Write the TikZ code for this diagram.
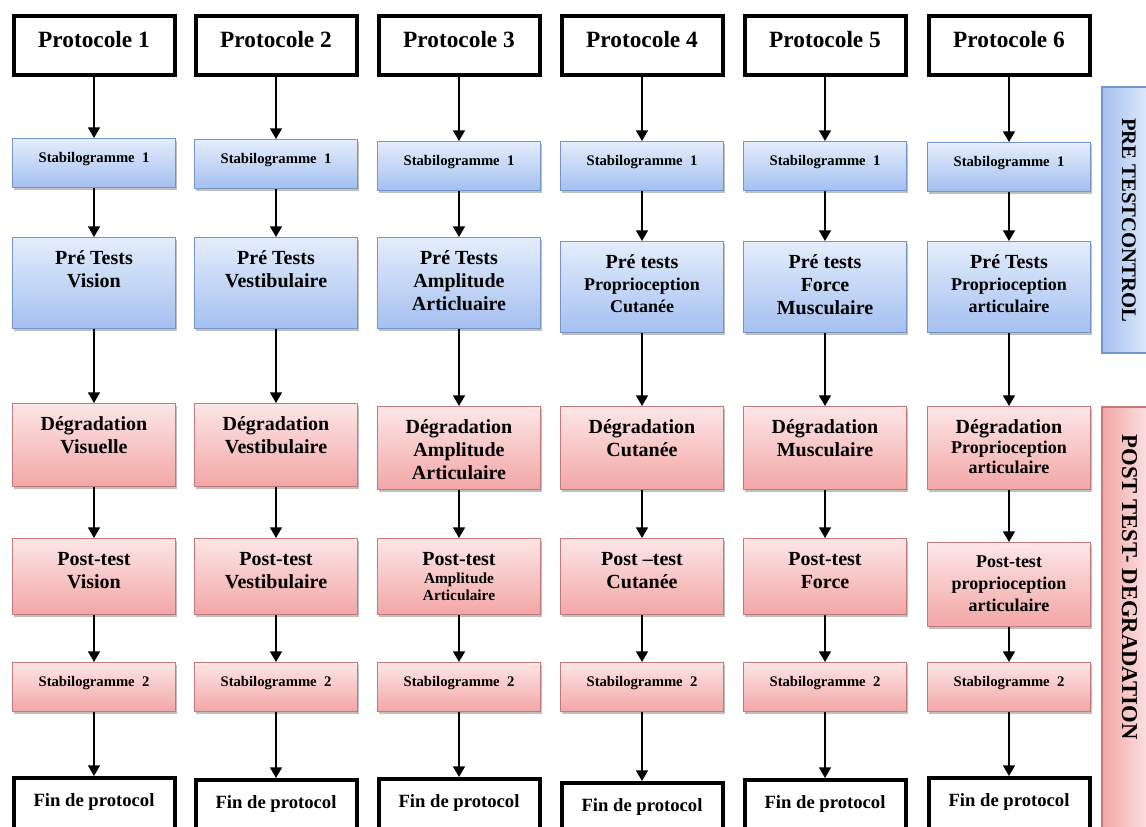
\documentclass[tikz,border=0pt]{standalone}
\usepackage{fontspec}
\setmainfont{Liberation Serif}
\usepackage{tikz}
\usetikzlibrary{arrows.meta,shadows}

\definecolor{bluetop}{RGB}{228,237,252}
\definecolor{bluebot}{RGB}{164,192,240}
\definecolor{blueline}{RGB}{118,148,204}
\definecolor{redtop}{RGB}{253,230,230}
\definecolor{redbot}{RGB}{243,166,166}
\definecolor{redline}{RGB}{196,122,122}

\newcommand{\lignes}[1]{\begin{tabular}[t]{@{}c@{}}#1\end{tabular}}

\begin{document}
\begin{tikzpicture}[x=0.75pt,y=-0.75pt,
    every node/.style={anchor=north,inner xsep=0pt,inner ysep=0pt},
    protbox/.style={draw=black,line width=3pt,fill=white,minimum width=120.75pt,
        text height=24pt,text depth=20.25pt,font=\fontsize{17.5}{20}\selectfont\bfseries},
    finbox/.style={protbox,text height=21pt,text depth=30pt,font=\fontsize{14}{16}\selectfont\bfseries},
    testbox/.style={line width=0.8pt,minimum width=122.25pt,
        drop shadow={shadow xshift=1.2pt,shadow yshift=-1.5pt,fill=black,opacity=.25},
        font=\fontsize{15}{17.25}\selectfont\bfseries},
    bluebox/.style={testbox,draw=blueline,top color=bluetop,bottom color=bluebot},
    redbox/.style={testbox,draw=redline,top color=redtop,bottom color=redbot},
    stab/.style={text height=18pt,text depth=18.75pt,font=\fontsize{11}{13}\selectfont\bfseries},
    pretest/.style={text height=20.25pt,text depth=48pt},
    degr/.style={text height=20.25pt,text depth=42pt},
    posttest/.style={text height=20.25pt,text depth=36.75pt},
    smallfont/.style={font=\fontsize{13.5}{16.5}\selectfont\bfseries},
    sidebox/.style={anchor=center,rotate=-90,line width=0.8pt,text height=22.5pt,text depth=15pt},
    arr/.style={-{Triangle[width=9pt,length=8pt]},line width=1.1pt}]
    \useasboundingbox (0,0) rectangle (1146,827);
    \clip (0,0) rectangle (1146,827);

    % protocols
    \node[protbox] (prot1) at (94,14) {Protocole 1};
    \node[protbox] (prot2) at (276,14) {Protocole 2};
    \node[protbox] (prot3) at (459,14) {Protocole 3};
    \node[protbox] (prot4) at (642,14) {Protocole 4};
    \node[protbox] (prot5) at (825,14) {Protocole 5};
    \node[protbox] (prot6) at (1009,14) {Protocole 6};

    % stabilogramme 1
    \node[bluebox,stab] (sa1) at (94,138) {Stabilogramme~~1};
    \node[bluebox,stab] (sa2) at (276,139) {Stabilogramme~~1};
    \node[bluebox,stab] (sa3) at (459,141) {Stabilogramme~~1};
    \node[bluebox,stab] (sa4) at (642,141) {Stabilogramme~~1};
    \node[bluebox,stab] (sa5) at (825,141) {Stabilogramme~~1};
    \node[bluebox,stab] (sa6) at (1009,142) {Stabilogramme~~1};

    % pre tests
    \node[bluebox,pretest] (pre1) at (94,237) {\lignes{Pré Tests\\Vision}};
    \node[bluebox,pretest] (pre2) at (276,237) {\lignes{Pré Tests\\Vestibulaire}};
    \node[bluebox,pretest] (pre3) at (459,237) {\lignes{Pré Tests\\Amplitude\\Articluaire}};
    \node[bluebox,pretest,smallfont] (pre4) at (642,241)
        {\lignes{{\fontsize{15}{16.5}\selectfont Pré tests}\\Proprioception\\Cutanée}};
    \node[bluebox,pretest] (pre5) at (825,241) {\lignes{Pré tests\\Force\\Musculaire}};
    \node[bluebox,pretest,smallfont] (pre6) at (1009,241)
        {\lignes{{\fontsize{15}{16.5}\selectfont Pré Tests}\\Proprioception\\articulaire}};

    % degradation
    \node[redbox,degr] (deg1) at (94,403) {\lignes{Dégradation\\Visuelle}};
    \node[redbox,degr] (deg2) at (276,403) {\lignes{Dégradation\\Vestibulaire}};
    \node[redbox,degr] (deg3) at (459,406) {\lignes{Dégradation\\Amplitude\\Articulaire}};
    \node[redbox,degr] (deg4) at (642,406) {\lignes{Dégradation\\Cutanée}};
    \node[redbox,degr] (deg5) at (825,406) {\lignes{Dégradation\\Musculaire}};
    \node[redbox,degr,font=\fontsize{13.5}{15}\selectfont\bfseries] (deg6) at (1009,406)
        {\lignes{{\fontsize{15}{15}\selectfont Dégradation}\\Proprioception\\articulaire}};

    % post tests
    \node[redbox,posttest] (post1) at (94,538) {\lignes{Post-test\\Vision}};
    \node[redbox,posttest] (post2) at (276,538) {\lignes{Post-test\\Vestibulaire}};
    \node[redbox,posttest] (post3) at (459,538)
        {\lignes{Post-test\\[-3.75pt]{\fontsize{11.5}{13}\selectfont Amplitude}\\[-4.5pt]{\fontsize{11.5}{13}\selectfont Articulaire}}};
    \node[redbox,posttest] (post4) at (642,538) {\lignes{Post –test\\Cutanée}};
    \node[redbox,posttest] (post5) at (825,538) {\lignes{Post-test\\Force}};
    \node[redbox,smallfont,text height=18.75pt,text depth=44.25pt] (post6) at (1009,542)
        {\lignes{Post-test\\proprioception\\articulaire}};

    % stabilogramme 2
    \node[redbox,stab] (sb1) at (94,662) {Stabilogramme~~2};
    \node[redbox,stab] (sb2) at (276,662) {Stabilogramme~~2};
    \node[redbox,stab] (sb3) at (459,662) {Stabilogramme~~2};
    \node[redbox,stab] (sb4) at (642,662) {Stabilogramme~~2};
    \node[redbox,stab] (sb5) at (825,662) {Stabilogramme~~2};
    \node[redbox,stab] (sb6) at (1009,662) {Stabilogramme~~2};

    % end of protocol
    \node[finbox] (fin1) at (94,776) {Fin de protocol};
    \node[finbox] (fin2) at (276,778) {Fin de protocol};
    \node[finbox] (fin3) at (459,777) {Fin de protocol};
    \node[finbox] (fin4) at (642,781) {Fin de protocol};
    \node[finbox] (fin5) at (825,778) {Fin de protocol};
    \node[finbox] (fin6) at (1009,776) {Fin de protocol};

    % phases on the right
    \node[sidebox,draw=blueline,left color=bluebot,right color=bluetop,minimum width=199.5pt,
        font=\fontsize{15.5}{18}\selectfont\bfseries] (prephase) at (1127,220) {PRE TESTCONTROL};
    \node[sidebox,draw=redline,left color=redbot,right color=redtop,minimum width=332.25pt,
        font=\fontsize{17}{19}\selectfont\bfseries] (postphase) at (1127,628.5)
        {POST TEST- DEGRADATION\hspace*{62pt}};

    % arrows
    \draw[arr] (prot1) edge (sa1) (sa1) edge (pre1) (pre1) edge (deg1) (deg1) edge (post1) (post1) edge (sb1) (sb1) edge (fin1);
    \draw[arr] (prot2) edge (sa2) (sa2) edge (pre2) (pre2) edge (deg2) (deg2) edge (post2) (post2) edge (sb2) (sb2) edge (fin2);
    \draw[arr] (prot3) edge (sa3) (sa3) edge (pre3) (pre3) edge (deg3) (deg3) edge (post3) (post3) edge (sb3) (sb3) edge (fin3);
    \draw[arr] (prot4) edge (sa4) (sa4) edge (pre4) (pre4) edge (deg4) (deg4) edge (post4) (post4) edge (sb4) (sb4) edge (fin4);
    \draw[arr] (prot5) edge (sa5) (sa5) edge (pre5) (pre5) edge (deg5) (deg5) edge (post5) (post5) edge (sb5) (sb5) edge (fin5);
    \draw[arr] (prot6) edge (sa6) (sa6) edge (pre6) (pre6) edge (deg6) (deg6) edge (post6) (post6) edge (sb6) (sb6) edge (fin6);
\end{tikzpicture}
\end{document}
